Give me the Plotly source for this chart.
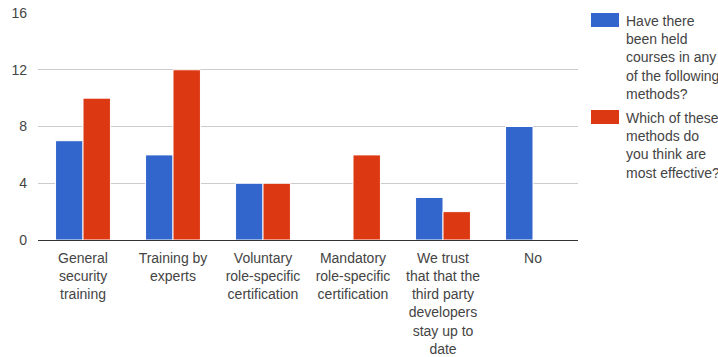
import plotly.graph_objects as go

# Survey answers per training method
categories = [
    "General<br>security<br>training",
    "Training by<br>experts",
    "Voluntary<br>role-specific<br>certification",
    "Mandatory<br>role-specific<br>certification",
    "We trust<br>that that the<br>third party<br>developers<br>stay up to<br>date",
    "No",
]
held_courses = [7, 6, 4, 0, 3, 8]
most_effective = [10, 12, 4, 6, 2, 0]

series_names = [
    "Have there<br>been held<br>courses in any<br>of the following<br>methods?",
    "Which of these<br>methods do<br>you think are<br>most effective?",
]
series_colors = ["#3366CC", "#DC3912"]
y_ticks = [0, 4, 8, 12, 16]

FONT = "Liberation Sans, Arial, sans-serif"
TEXT = "#444444"

fig = go.Figure()
for vals, name, color in zip([held_courses, most_effective], series_names, series_colors):
    fig.add_trace(go.Bar(
        x=categories, y=vals, name=name,
        marker=dict(color=color, line=dict(color="white", width=1)),
        showlegend=False,
    ))

# plot area in pixels: x 38..578, y 13..240
W, H = 718, 357
L, R, T, B = 38, 578, 13, 240

def px_x(x):
    return (x - L) / (R - L)

def px_y(y):
    return (B - y) / (B - T)

shapes = []
annotations = []
legend_tops = [13, 110]
for top, name, color in zip(legend_tops, series_names, series_colors):
    shapes.append(dict(
        type="rect", xref="paper", yref="paper",
        x0=px_x(591), x1=px_x(619), y0=px_y(top + 14), y1=px_y(top),
        fillcolor=color, line=dict(width=0),
    ))
    annotations.append(dict(
        xref="paper", yref="paper", x=px_x(624), y=px_y(top - 2),
        xanchor="left", yanchor="top", align="left", showarrow=False,
        text=name, font=dict(family=FONT, size=14, color=TEXT),
    ))

fig.update_layout(
    width=W, height=H,
    margin=dict(l=L, r=W - R, t=T, b=H - B, autoexpand=False),
    paper_bgcolor="white", plot_bgcolor="white",
    barmode="group", bargap=0.39, bargroupgap=0,
    font=dict(family=FONT, size=14, color=TEXT),
    shapes=shapes, annotations=annotations,
    xaxis=dict(
        showgrid=False, showline=True, linecolor="#333333", linewidth=1,
        ticks="", tickfont=dict(size=14, color=TEXT), tickangle=0,
        ticklabelstandoff=5, automargin=False, fixedrange=True,
    ),
    yaxis=dict(
        range=[0, 16], tickvals=y_ticks, showgrid=True, gridcolor="#cccccc",
        gridwidth=1, zeroline=False, showline=False, ticks="",
        tickfont=dict(size=14, color=TEXT), ticklabelstandoff=10,
        automargin=False, fixedrange=True,
    ),
)

fig.write_html("out.html")
